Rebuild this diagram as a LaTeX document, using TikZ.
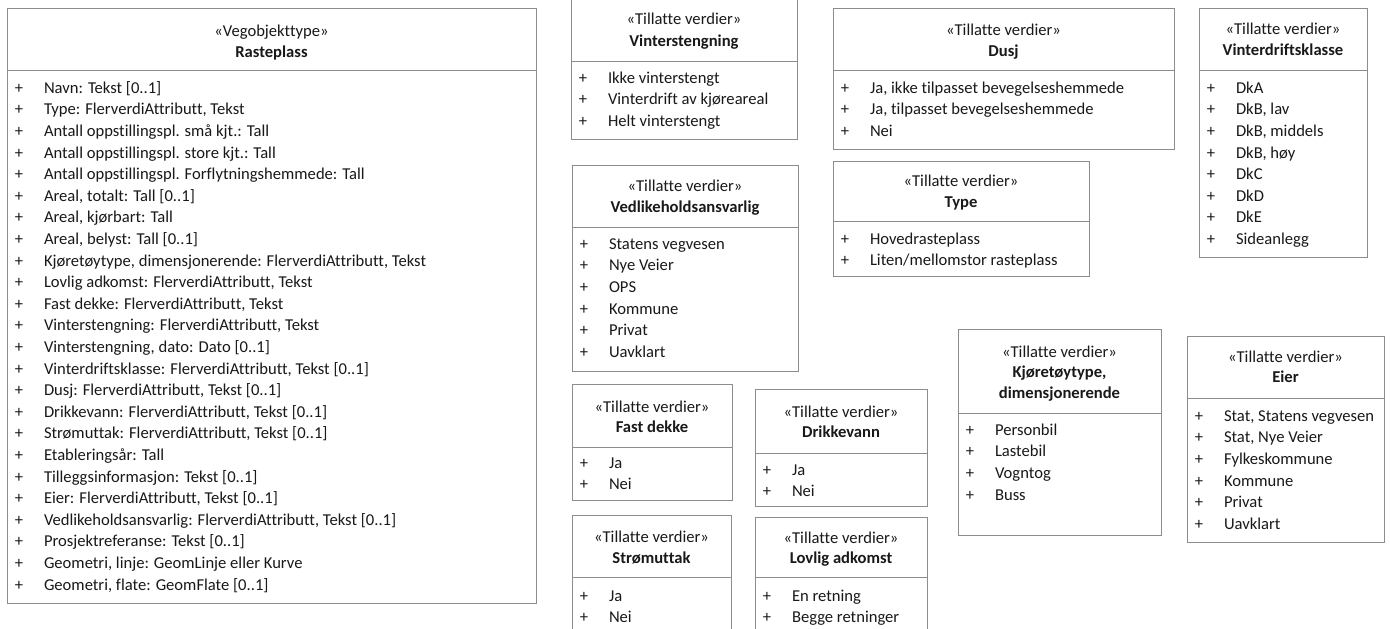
\documentclass[tikz,border=0pt]{standalone}
\usepackage{fontspec}
\setmainfont{Carlito}[Ligatures={NoCommon}]
\definecolor{framegray}{RGB}{140,140,140}
\definecolor{ink}{RGB}{25,25,25}
\tikzset{
  frame/.style={draw=framegray, line width=1pt},
  txt/.style={inner sep=0pt, outer sep=0pt, text=ink, font=\fontsize{16.6}{19}\selectfont, text height=13pt, text depth=2.5pt},
  stereo/.style={txt, anchor=center},
  ttl/.style={txt, anchor=center, font=\fontsize{16.6}{19}\selectfont\bfseries},
  plussign/.style={txt, anchor=center},
  item/.style={txt, anchor=west},
}
\newcommand\umlframe[5]{% x1,y1,x2,y2,divider
  \draw[frame] (#1,#2) rectangle (#3,#4);
  \draw[frame] (#1,#5) -- (#3,#5);}
\newcommand\umlitems[4]{% name, left, first y, list
  \foreach \itm [count=\i] in {#4} {
    \node[plussign] (#1-p\i) at ({#2+12},{#3+(\i-1)*21.6}) {+};
    \node[item] (#1-\i) at ({#2+37},{#3+(\i-1)*21.6}) {\itm};
  }}
\begin{document}
\begin{tikzpicture}[x=1pt,y=-1pt]
\useasboundingbox[fill=white] (0,0) rectangle (1390,629);

% Rasteplass
\umlframe{7}{8}{536}{603}{70}
\node[stereo] (rp-st) at (271.5,31) {«Vegobjekttype»};
\node[ttl] (rp-t) at (271.5,52) {Rasteplass};
\umlitems{rp}{7}{88}{{Navn: Tekst [0..1]},{Type: FlerverdiAttributt, Tekst},{Antall oppstillingspl. små kjt.: Tall},{Antall oppstillingspl. store kjt.: Tall},{Antall oppstillingspl. Forflytningshemmede: Tall},{Areal, totalt: Tall [0..1]},{Areal, kjørbart: Tall},{Areal, belyst: Tall [0..1]},{Kjøretøytype, dimensjonerende: FlerverdiAttributt, Tekst},{Lovlig adkomst: FlerverdiAttributt, Tekst},{Fast dekke: FlerverdiAttributt, Tekst},{Vinterstengning: FlerverdiAttributt, Tekst},{Vinterstengning, dato: Dato [0..1]},{Vinterdriftsklasse: FlerverdiAttributt, Tekst [0..1]},{Dusj: FlerverdiAttributt, Tekst [0..1]},{Drikkevann: FlerverdiAttributt, Tekst [0..1]},{Strømuttak: FlerverdiAttributt, Tekst [0..1]},{Etableringsår: Tall},{Tilleggsinformasjon: Tekst [0..1]},{Eier: FlerverdiAttributt, Tekst [0..1]},{Vedlikeholdsansvarlig: FlerverdiAttributt, Tekst [0..1]},{Prosjektreferanse: Tekst [0..1]},{Geometri, linje: GeomLinje eller Kurve},{Geometri, flate: GeomFlate [0..1]}}

% Vinterstengning
\umlframe{571}{-3}{797}{139}{61}
\node[stereo] (vs-st) at (684,19) {«Tillatte verdier»};
\node[ttl] (vs-t) at (684,41) {Vinterstengning};
\umlitems{vs}{571}{78}{{Ikke vinterstengt},{Vinterdrift av kjøreareal},{Helt vinterstengt}}

% Vedlikeholdsansvarlig
\umlframe{572}{165}{798}{371}{227}
\node[stereo] (va-st) at (685,186) {«Tillatte verdier»};
\node[ttl] (va-t) at (685,207) {Vedlikeholdsansvarlig};
\umlitems{va}{572}{244}{{Statens vegvesen},{Nye Veier},{OPS},{Kommune},{Privat},{Uavklart}}

% Dusj
\umlframe{833}{8}{1174}{149}{70}
\node[stereo] (du-st) at (1003.5,30) {«Tillatte verdier»};
\node[ttl] (du-t) at (1003.5,51) {Dusj};
\umlitems{du}{833}{88}{{Ja, ikke tilpasset bevegelseshemmede},{Ja, tilpasset bevegelseshemmede},{Nei}}

% Type
\umlframe{833}{161}{1089}{276}{221}
\node[stereo] (ty-st) at (961,181) {«Tillatte verdier»};
\node[ttl] (ty-t) at (961,202) {Type};
\umlitems{ty}{833}{239}{{Hovedrasteplass},{Liten/mellomstor rasteplass}}

% Vinterdriftsklasse
\umlframe{1199}{8}{1367}{257}{70}
\node[stereo] (vk-st) at (1283,29) {«Tillatte verdier»};
\node[ttl] (vk-t) at (1283,50) {Vinterdriftsklasse};
\umlitems{vk}{1199}{88}{{DkA},{DkB, lav},{DkB, middels},{DkB, høy},{DkC},{DkD},{DkE},{Sideanlegg}}

% Fast dekke
\umlframe{572}{384}{732}{500}{447}
\node[stereo] (fd-st) at (652,407) {«Tillatte verdier»};
\node[ttl] (fd-t) at (652,427) {Fast dekke};
\umlitems{fd}{572}{463}{{Ja},{Nei}}

% Drikkevann
\umlframe{755}{389}{927}{506}{453}
\node[stereo] (dv-st) at (841,412) {«Tillatte verdier»};
\node[ttl] (dv-t) at (841,432) {Drikkevann};
\umlitems{dv}{755}{470}{{Ja},{Nei}}

% Strømuttak
\umlframe{572}{515}{731}{645}{577}
\node[stereo] (su-st) at (651.5,537) {«Tillatte verdier»};
\node[ttl] (su-t) at (651.5,558) {Strømuttak};
\umlitems{su}{572}{596}{{Ja},{Nei}}

% Lovlig adkomst
\umlframe{755}{517}{927}{645}{577}
\node[stereo] (la-st) at (841,538) {«Tillatte verdier»};
\node[ttl] (la-t) at (841,558) {Lovlig adkomst};
\umlitems{la}{755}{596}{{En retning},{Begge retninger}}

% Kjøretøytype, dimensjonerende
\umlframe{958}{329}{1161}{535}{413}
\node[stereo] (kt-st) at (1059.5,352) {«Tillatte verdier»};
\node[ttl] (kt-t1) at (1059.5,372) {Kjøretøytype,};
\node[ttl] (kt-t2) at (1059.5,393) {dimensjonerende};
\umlitems{kt}{958}{430}{{Personbil},{Lastebil},{Vogntog},{Buss}}

% Eier
\umlframe{1187}{336}{1384}{542}{398}
\node[stereo] (ei-st) at (1285.5,357) {«Tillatte verdier»};
\node[ttl] (ei-t) at (1285.5,377) {Eier};
\umlitems{ei}{1187}{416}{{Stat, Statens vegvesen},{Stat, Nye Veier},{Fylkeskommune},{Kommune},{Privat},{Uavklart}}
\end{tikzpicture}
\end{document}
